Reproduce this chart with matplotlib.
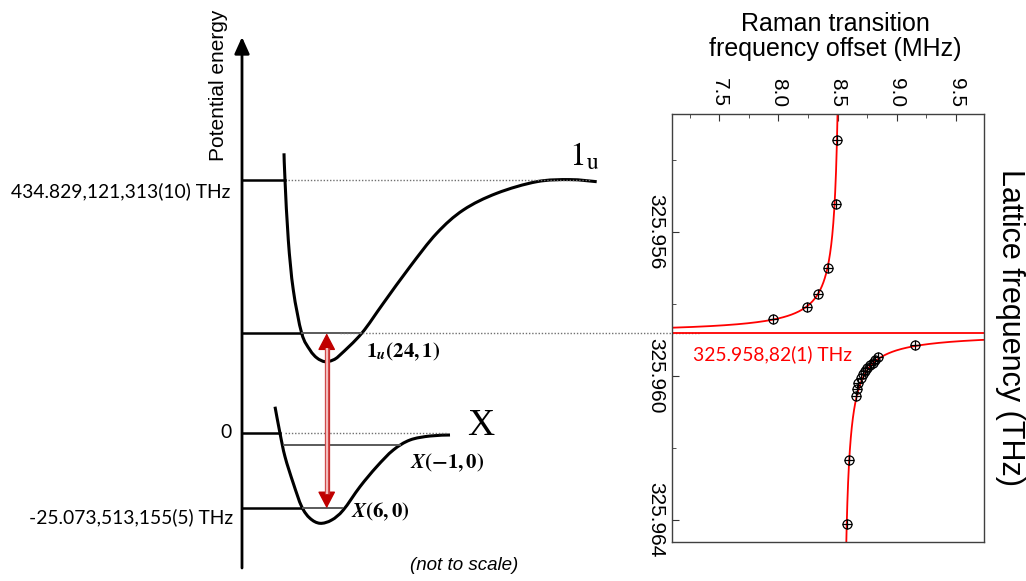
import numpy as np
import matplotlib
matplotlib.use("Agg")
import matplotlib.pyplot as plt
from matplotlib.path import Path
from matplotlib.patches import PathPatch
from matplotlib.ticker import MultipleLocator, FormatStrFormatter

plt.rcParams['mathtext.fontset'] = 'stix'

# ---------------- Right panel data ----------------
raman_upper = [8.497, 8.483, 8.421, 8.336, 8.238, 7.951]
lattice_upper = [325.95346, 325.95524, 325.95702, 325.95772, 325.95808, 325.95843]
raman_lower = [9.155, 8.843, 8.815, 8.796, 8.773, 8.750, 8.731, 8.711, 8.694,
               8.674, 8.666, 8.655, 8.595, 8.576]
lattice_lower = [325.95915, 325.95947, 325.95956, 325.95964, 325.95970, 325.95978,
                 325.95986, 325.95995, 325.96007, 325.96021, 325.96038, 325.96056,
                 325.96235, 325.96413]
# fit model: offset = x0 + B / (f - f0)
fit_f0 = 325.95882
fit_x0 = 8.535
fit_B = 0.00022
raman_ticks = [7.5, 8.0, 8.5, 9.0, 9.5]
lattice_ticks = [325.956, 325.960, 325.964]
magic_text = "325.958,82(1) THz"

# ---------------- Left schematic data (schematic units) ----------------
u1_r = [284, 285, 288.3, 293.3, 301.7, 310, 317, 325, 333, 340, 361.7, 383.3, 410,
        436.7, 463.3, 496.7, 536.7, 570, 596.7]
u1_E = [153.3, 180, 240, 290, 333.3, 350, 358, 361.7, 360, 355, 333.3, 303.3, 266.7,
        233.3, 210, 193.3, 181.7, 179.6, 181.7]
x_r = [275, 280, 285, 293.3, 301.7, 310, 320, 331.7, 343.3, 360, 376.7, 393.3,
       410, 430, 450]
x_E = [406.7, 433.3, 456.7, 483.3, 506.7, 518.3, 523.3, 520, 510, 486.7, 466.7,
       450, 440, 436, 435]
E_dissoc_1u = 179.6
E_1u_24_1 = 333.3
E_zero = 432.7
E_x_m1 = 444.5
E_x_6 = 508.3
axis_labels = ["434.829,121,313(10) THz", "0", "-25.073,513,155(5) THz"]


def smooth_path(xs, ys):
    p = np.column_stack([xs, ys]).astype(float)
    ext = np.vstack([p[0], p, p[-1]])
    verts = [p[0]]
    codes = [Path.MOVETO]
    for i in range(len(p) - 1):
        p0, p1, p2, p3 = ext[i], ext[i + 1], ext[i + 2], ext[i + 3]
        c1 = p1 + (p2 - p0) / 6.0
        c2 = p2 - (p3 - p1) / 6.0
        verts += [c1, c2, p2]
        codes += [Path.CURVE4] * 3
    return Path(verts, codes)


fig = plt.figure(figsize=(10.26, 5.81), dpi=100)

# ---------------- Schematic ----------------
ax0 = fig.add_axes([0, 0, 1, 1])
ax0.set_xlim(0, 1026)
ax0.set_ylim(581, 0)
ax0.axis('off')

lab_font = 'Lato'
sans = 'Liberation Sans'

# energy axis arrow
ax0.annotate('', xy=(242, 37), xytext=(242, 568),
             arrowprops=dict(arrowstyle='-|>,head_length=1.0,head_width=0.45',
                             lw=2.0, color='black', shrinkA=0, shrinkB=0))
fig.text(218 / 1026, 1 - 85 / 581, 'Potential energy', rotation=90,
         ha='center', va='center', fontsize=15, family=sans)

# potential curves
ax0.add_patch(PathPatch(smooth_path(u1_r, u1_E), fill=False, lw=2.2, color='black',
                        capstyle='butt'))
ax0.add_patch(PathPatch(smooth_path(x_r, x_E), fill=False, lw=2.2, color='black',
                        capstyle='butt'))

dot = dict(color='#707070', lw=1.0, linestyle=(0, (1, 1.3)))
blk = dict(color='black', lw=1.8)
gry = dict(color='#5a5a5a', lw=1.4)

# levels
ax0.plot([242, 285], [E_dissoc_1u, E_dissoc_1u], **blk)
ax0.plot([288, 590], [E_dissoc_1u, E_dissoc_1u], **dot)
ax0.plot([242, 301.7], [E_1u_24_1, E_1u_24_1], **blk)
ax0.plot([301.7, 361], [E_1u_24_1, E_1u_24_1], **gry)
ax0.plot([340, 699], [E_1u_24_1, E_1u_24_1], **dot)
ax0.plot([242, 280], [E_zero, E_zero], **blk)
ax0.plot([285, 447], [E_zero, E_zero], **dot)
ax0.plot([284, 400], [E_x_m1, E_x_m1], **gry)
ax0.plot([242, 302.5], [E_x_6, E_x_6], **blk)
ax0.plot([302.5, 342], [E_x_6, E_x_6], **gry)

# level labels
ax0.text(230, 191, axis_labels[0], ha='right', va='center', fontsize=13.9, family=lab_font)
ax0.text(232, 433, axis_labels[1], ha='right', va='center', fontsize=13.9, family=lab_font)
ax0.text(233, 517, axis_labels[2], ha='right', va='center', fontsize=13.9, family=lab_font)

# red transition arrow
ax_x = 326.7
ax0.annotate('', xy=(ax_x, E_x_6), xytext=(ax_x, E_1u_24_1),
             arrowprops=dict(arrowstyle='<|-|>,head_length=1.05,head_width=0.55',
                             lw=1.0, color='#c00000', shrinkA=0, shrinkB=0),
             zorder=3)
ax0.plot([ax_x, ax_x], [E_1u_24_1 + 14.5, E_x_6 - 14], color='#c83232', lw=3.8,
         zorder=4, solid_capstyle='butt')
ax0.plot([ax_x, ax_x], [E_1u_24_1 + 14.5, E_x_6 - 14], color='#f3bcbc', lw=1.7,
         zorder=5, solid_capstyle='butt')

# state labels
ax0.text(569, 165, r'$\mathrm{1_u}$', ha='left', va='baseline', fontsize=24)
ax0.text(467, 435, 'X', ha='left', va='baseline', fontsize=27, family='Liberation Serif')
ax0.text(366, 352, r'$\mathbf{1}_{\mathbfit{u}}\mathbf{(24,1)}$', ha='left', va='center',
         fontsize=15)
ax0.text(410, 463, r'$\mathbfit{X}\mathbf{(-1,0)}$', ha='left', va='center', fontsize=15)
ax0.text(351, 512, r'$\mathbfit{X}\mathbf{(6,0)}$', ha='left', va='center', fontsize=15)
ax0.text(464.5, 565, '(not to scale)', ha='center', va='center', fontsize=13.5,
         family=sans, style='italic')

# ---------------- Right panel ----------------
L, R, T, B = 672.3, 984.0, 113.5, 542.0
ax = fig.add_axes([L / 1026, 1 - B / 581, (R - L) / 1026, (B - T) / 581])
ax.set_facecolor('none')
ax.set_xlim(7.103, 9.736)
ax.set_ylim(325.964619, 325.952717)

d_up = -np.geomspace(0.0062, fit_B / 6, 400)
d_lo = np.geomspace(fit_B / 6, 0.006, 400)
for d in (d_up, d_lo):
    ax.plot(fit_x0 + fit_B / d, fit_f0 + d, color='red', lw=1.3)
ax.axhline(fit_f0, color='red', lw=1.3)

for xs, ys in ((raman_upper, lattice_upper), (raman_lower, lattice_lower)):
    ax.plot(xs, ys, 'o', mfc='none', mec='black', ms=6.5, mew=0.9)
    ax.plot(xs, ys, '+', color='black', ms=6.5, mew=0.9)

ax.text(7.278, 325.9594, magic_text, color='red', ha='left', va='center',
        fontsize=13.9, family=lab_font)

ax.xaxis.tick_top()
ax.set_xticks(raman_ticks)
ax.xaxis.set_minor_locator(MultipleLocator(0.25))
ax.xaxis.set_major_formatter(FormatStrFormatter('%.1f'))
ax.set_yticks(lattice_ticks)
ax.yaxis.set_minor_locator(MultipleLocator(0.002))
ax.yaxis.set_major_formatter(FormatStrFormatter('%.3f'))
ax.tick_params(axis='x', which='both', direction='in', top=True, bottom=False,
               labeltop=True, labelbottom=False, labelsize=15, pad=4.5,
               colors='#333333', labelcolor='black')
ax.tick_params(axis='y', which='both', direction='in', left=True, right=False,
               labelsize=15, pad=5, colors='#333333', labelcolor='black')
ax.tick_params(which='major', length=5)
ax.tick_params(which='minor', length=3)
for lab in ax.get_xticklabels():
    lab.set_rotation(-90)
    lab.set_family(sans)
for lab in ax.get_yticklabels():
    lab.set_rotation(-90)
    lab.set_va('center')
    lab.set_family(sans)
for s in ax.spines.values():
    s.set_color('#404040')
    s.set_linewidth(1.0)

fig.text(835 / 1026, 1 - 12 / 581, 'Raman transition\nfrequency offset (MHz)',
         ha='center', va='top', fontsize=18, family=sans, linespacing=1.05)
fig.text(995 / 1026, 1 - 327.5 / 581, 'Lattice frequency (THz)', rotation=-90,
         ha='left', va='center', fontsize=22, family=sans)

fig.savefig('out.png', dpi=100)
